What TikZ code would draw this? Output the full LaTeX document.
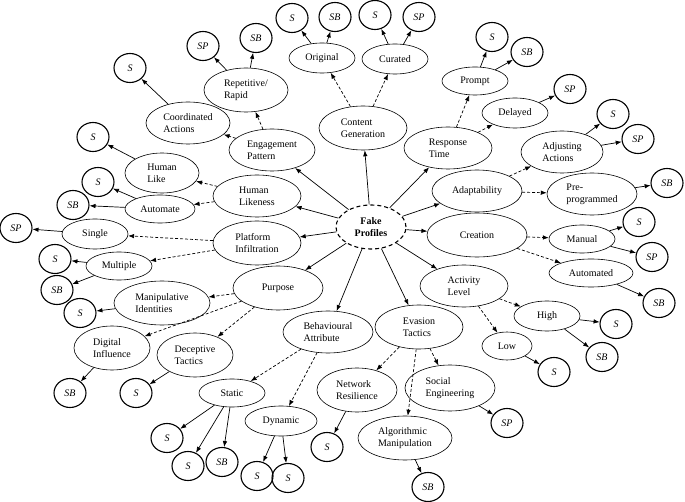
\documentclass[tikz,border=0pt]{standalone}
\usepackage{fontspec}
\setmainfont{Liberation Serif}
\usetikzlibrary{positioning, arrows.meta, shapes.geometric}

\begin{document}
\begin{tikzpicture}[x=1pt, y=-1pt, font=\fontsize{10}{12}\selectfont,
        cat/.style 2 args={ellipse, draw, line width=0.6pt, inner sep=1pt, align=left,
            minimum width=#1pt, minimum height=#2pt},
        leaf/.style={ellipse, draw, line width=1.1pt, inner sep=0pt, minimum width=32pt,
            minimum height=29pt, font=\fontsize{10}{12}\selectfont\itshape},
        solid arrow/.style={-{Latex[length=6pt,width=4.5pt]}, line width=0.7pt},
        dash arrow/.style={solid arrow, dash pattern=on 3pt off 2pt}]
        \useasboundingbox (0,0) rectangle (685,502);

        % Centre
        \node[ellipse, draw, line width=1.1pt, dash pattern=on 4pt off 3pt, minimum width=70pt,
            minimum height=44pt, inner sep=1pt, align=center, font=\fontsize{10}{12}\selectfont\bfseries]
            (fp) at (371,227) {Fake\\Profiles};

        % Main attributes
        \node[cat={86}{42}] (eng) at (272,150) {Engagement\\Pattern};
        \node[cat={88}{44}] (cont) at (363,128) {Content\\Generation};
        \node[cat={88}{42}] (resp) at (448,148) {Response\\Time};
        \node[cat={88}{42}] (hl) at (257,196) {Human\\Likeness};
        \node[cat={90}{42}] (adapt) at (477,191) {Adaptability};
        \node[cat={88}{44}] (plat) at (257,243) {Platform\\Infiltration};
        \node[cat={100}{44}] (creat) at (477,235) {Creation};
        \node[cat={90}{44}] (purp) at (278,288) {Purpose};
        \node[cat={88}{42}] (act) at (464,286) {Activity\\Level};
        \node[cat={90}{42}] (beh) at (328,332) {Behavioural\\Attribute};
        \node[cat={88}{44}] (eva) at (419,327) {Evasion\\Tactics};

        % Sub attributes
        \node[cat={84}{42}] (coord) at (188,123) {Coordinated\\Actions};
        \node[cat={84}{44}] (rep) at (246,90) {Repetitive/\\Rapid};
        \node[cat={66}{30}] (orig) at (322,58) {Original};
        \node[cat={66}{30}] (cur) at (395,59) {Curated};
        \node[cat={66}{28}] (prompt) at (475,81) {Prompt};
        \node[cat={66}{30}] (del) at (515,113) {Delayed};
        \node[cat={82}{42}] (adj) at (562,152) {Adjusting\\Actions};
        \node[cat={90}{42}] (pre) at (592,194) {Pre-\\programmed};
        \node[cat={66}{28}] (man) at (582,239) {Manual};
        \node[cat={84}{28}] (auto) at (591,273) {Automated};
        \node[cat={66}{30}] (high) at (547,316) {High};
        \node[cat={50}{28}] (low) at (507,346) {Low};
        \node[cat={90}{46}] (soc) at (450,388) {Social\\Engineering};
        \node[cat={94}{44}] (alg) at (405,438) {Algorithmic\\Manipulation};
        \node[cat={80}{44}] (net) at (357,390) {Network\\Resilience};
        \node[cat={72}{30}] (dyn) at (281,421) {Dynamic};
        \node[cat={66}{28}] (stat) at (232,393) {Static};
        \node[cat={76}{44}] (dec) at (195,355) {Deceptive\\Tactics};
        \node[cat={76}{44}] (dig) at (112,348) {Digital\\Influence};
        \node[cat={96}{44}] (manip) at (162,303) {Manipulative\\Identities};
        \node[cat={66}{28}] (mult) at (119,266) {Multiple};
        \node[cat={66}{30}] (single) at (95,234) {Single};
        \node[cat={70}{28}] (autom) at (160,209) {Automate};
        \node[cat={74}{40}] (hlike) at (162,173) {Human\\Like};

        % Centre to main attributes
        \foreach \b in {eng, cont, resp, hl, adapt, plat, creat, purp, act, beh, eva}
            \draw[solid arrow] (fp) -- (\b);

        % Main to sub attributes
        \foreach \a/\b in {eng/coord, eng/rep, cont/orig, cont/cur, resp/prompt, resp/del,
                adapt/adj, adapt/pre, creat/man, creat/auto, act/high, act/low,
                eva/soc, eva/alg, eva/net, beh/dyn, beh/stat, purp/dec, purp/dig,
                purp/manip, plat/mult, plat/single, hl/autom, hl/hlike}
            \draw[dash arrow] (\a) -- (\b);

        % Leaves
        \foreach \n/\x/\y/\t/\p in {l1/130/68/S/coord, l2/203/46/SP/rep, l3/256/38/SB/rep,
                l4/292/18/S/orig, l5/335/17/SB/orig, l6/375/15/S/cur, l7/419/17/SP/cur,
                l8/492/37/S/prompt, l9/527/52/SB/prompt, l10/570/89/SP/del,
                l11/613/114/S/adj, l12/638/139/SP/adj, l13/667/183/SB/pre,
                l14/639/222/S/man, l15/652/257/SP/man, l16/659/303/SB/auto,
                l17/616/324/S/high, l18/602/357/SB/high, l19/554/372/S/low,
                l20/507/423/SP/soc, l21/428/487/SB/alg, l22/327/447/S/net,
                l23/257/476/S/dyn, l24/288/478/S/dyn, l25/167/438/S/stat,
                l26/188/466/S/stat, l27/222/462/SB/stat, l28/136/393/S/dec,
                l29/70/393/SB/dig, l30/80/313/S/manip, l31/55/259/S/mult,
                l32/57/290/SB/mult, l33/16/228/SP/single, l34/98/182/S/autom,
                l35/73/205/SB/autom, l36/93/137/S/hlike} {
            \node[leaf] (\n) at (\x,\y) {\t};
            \draw[solid arrow] (\p) -- (\n);
        }
    \end{tikzpicture}
\end{document}
